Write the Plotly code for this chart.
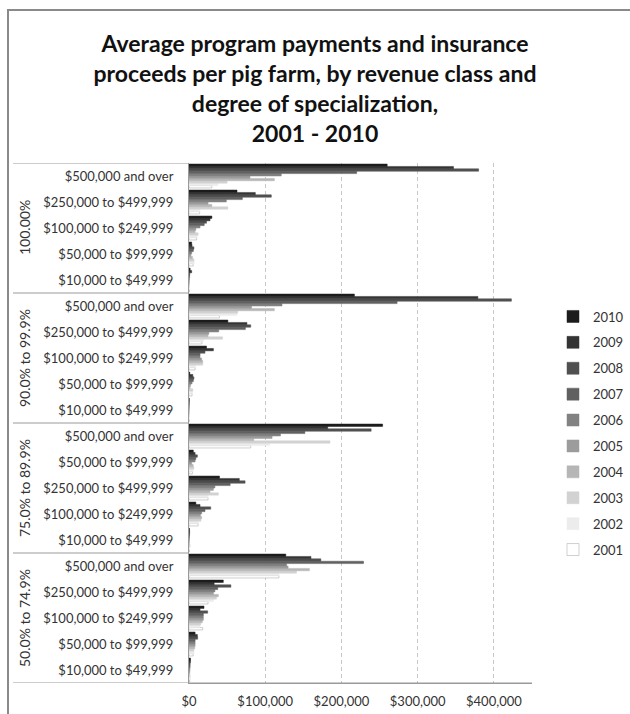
import plotly.graph_objects as go

# ---- data (values in US dollars) ----
groups = ["100.00%", "90.0% to 99.9%", "75.0% to 89.9%", "50.0% to 74.9%"]
classes_g1 = ["$500,000 and over", "$250,000 to $499,999", "$100,000 to $249,999", "$50,000 to $99,999", "$10,000 to $49,999"]
classes_g2 = ["$500,000 and over", "$250,000 to $499,999", "$100,000 to $249,999", "$50,000 to $99,999", "$10,000 to $49,999"]
classes_g3 = ["$500,000 and over", "$50,000 to $99,999", "$250,000 to $499,999", "$100,000 to $249,999", "$10,000 to $49,999"]
classes_g4 = ["$500,000 and over", "$250,000 to $499,999", "$100,000 to $249,999", "$50,000 to $99,999", "$10,000 to $49,999"]
years = ["2001", "2002", "2003", "2004", "2005", "2006", "2007", "2008", "2009", "2010"]

# values listed top-to-bottom: g1 (5), g2 (5), g3 (5), g4 (5)
v2010 = [260000, 63000, 30000, 3500, 1500, 217000, 51000, 23000, 1000, 300, 254000, 5700, 40000, 9000, 500, 127000, 45000, 19700, 8000, 2000]
v2009 = [347000, 87000, 27600, 4000, 3500, 379000, 76000, 32000, 5000, 300, 182000, 8000, 66000, 14500, 800, 160000, 33000, 14500, 11000, 2000]
v2008 = [380000, 108000, 23000, 6500, 1000, 423000, 81000, 21000, 6500, 300, 239000, 11000, 73600, 28500, 800, 173000, 55000, 24500, 11400, 1500]
v2007 = [220000, 70000, 20000, 5700, 800, 273000, 74000, 14500, 5700, 200, 152000, 9000, 54000, 21000, 600, 229000, 37700, 18800, 8000, 1500]
v2006 = [121000, 49000, 14500, 3500, 600, 122000, 39000, 14500, 4000, 200, 120000, 8000, 34000, 16600, 500, 128000, 34000, 18800, 8000, 1200]
v2005 = [80000, 25000, 9000, 2500, 500, 82000, 26000, 16600, 2000, 200, 109000, 3500, 32000, 15000, 500, 130000, 32000, 18800, 8000, 1200]
v2004 = [112000, 30000, 8000, 4500, 500, 112000, 25000, 18000, 1500, 200, 85000, 5500, 27600, 16600, 500, 158000, 38500, 17500, 7500, 1000]
v2003 = [50000, 51000, 12000, 6500, 500, 64000, 44000, 18000, 5000, 200, 185000, 6500, 38500, 15800, 1500, 141000, 36000, 15300, 6500, 1500]
v2002 = [38000, 14000, 11000, 7000, 500, 63000, 19000, 8800, 5000, 200, 106000, 5500, 25000, 12700, 500, 118000, 32000, 14500, 6500, 2000]
v2001 = [30000, 14000, 10000, 5500, 500, 40000, 17000, 8000, 4000, 200, 81000, 4500, 25000, 12000, 500, 118000, 25000, 18000, 5500, 1000]

series = [v2001, v2002, v2003, v2004, v2005, v2006, v2007, v2008, v2009, v2010]
colors = ["#ffffff", "#ececec", "#d2d2d2", "#b6b6b6", "#9c9c9c", "#828282", "#606060", "#505050", "#343434", "#1c1c1c"]

x_ticks = [0, 100000, 200000, 300000, 400000]
x_ticktext = ["$0", "$100,000", "$200,000", "$300,000", "$400,000"]

# ---- build category keys (top to bottom) ----
class_lists = [classes_g1, classes_g2, classes_g3, classes_g4]
keys, labels = [], []
for g, cl in zip(groups, class_lists):
    for c in cl:
        keys.append(g + "|" + c)
        labels.append(c)

FONT = "Lato"
fig = go.Figure()
for i, (yr, vals, col) in enumerate(zip(years, series, colors)):
    fig.add_trace(go.Bar(
        y=keys, x=vals, orientation="h", name=yr, legendgroup=yr,
        legendrank=1000 - i,
        marker=dict(color=col, line=dict(color="#a0a0a0" if yr == "2001" else col, width=0.5)),
    ))

# plot geometry in pixels
W, H = 630, 714
L, R, T, B = 189, 98, 163, 31
pw = W - L - R
ph = H - T - B

def px_x(px):
    return (px - L) / pw

def px_y(py):
    return (H - B - py) / ph

n = len(keys)
bottom_up = list(reversed(keys))

shapes = []
# group divider lines (in category index units, bottom-up)
for k in range(len(groups) + 1):
    yv = k * 5 - 0.5
    shapes.append(dict(type="line", xref="paper", yref="y", x0=px_x(13), x1=(1 if k == 0 else 0),
                       y0=yv, y1=yv, line=dict(color="#9a9a9a", width=1)))
# outer chart border
shapes.append(dict(type="rect", xref="paper", yref="paper", x0=px_x(8), x1=px_x(660),
                   y0=px_y(740), y1=px_y(10), line=dict(color="#8a8a8a", width=2), layer="above"))

annotations = []
for gi, g in enumerate(groups):
    top_idx = n - 1 - gi * 5
    mid = top_idx - 2
    annotations.append(dict(text=g, xref="paper", yref="y", x=px_x(24), y=mid, showarrow=False,
                            textangle=-90, xanchor="center", yanchor="middle",
                            font=dict(family=FONT, size=14, color="#333333")))

fig.update_layout(
    width=W, height=H,
    margin=dict(l=L, r=R, t=T, b=B, pad=0, autoexpand=False),
    paper_bgcolor="white", plot_bgcolor="white",
    barmode="group", bargap=0.08, bargroupgap=0,
    title=dict(text="Average program payments and insurance<br>proceeds per pig farm, by revenue class and<br>degree of specialization,<br>2001 - 2010",
               x=0.5, xref="container", xanchor="center", y=1 - 52 / H, yanchor="top",
               font=dict(family=FONT, size=23, color="#111111", weight="bold")),
    font=dict(family=FONT, size=13, color="#333333"),
    xaxis=dict(range=[0, 450000], tickvals=x_ticks, ticktext=x_ticktext,
               showgrid=True, gridcolor="#c8c8c8", griddash="4px,3px", gridwidth=1,
               zeroline=False, showline=True, linecolor="#9a9a9a", linewidth=1,
               ticks="", ticklabelstandoff=6, tickfont=dict(family=FONT, size=13, color="#333333"),
               automargin=False, fixedrange=True),
    yaxis=dict(type="category", categoryorder="array", categoryarray=bottom_up,
               tickvals=keys, ticktext=labels, showgrid=False, zeroline=False,
               showline=True, linecolor="#9a9a9a", linewidth=1, ticks="",
               ticklabelstandoff=12, tickfont=dict(family=FONT, size=13, color="#333333"),
               automargin=False, range=[-0.5, n - 0.5]),
    legend=dict(xref="container", yref="container", x=553 / W, xanchor="left",
                y=1 - 433 / H, yanchor="middle",
                traceorder="grouped", tracegroupgap=6,
                font=dict(family=FONT, size=13, color="#333333"),
                itemwidth=30, bgcolor="rgba(0,0,0,0)"),
    shapes=shapes, annotations=annotations,
    showlegend=True,
)

fig.write_html("out.html")
